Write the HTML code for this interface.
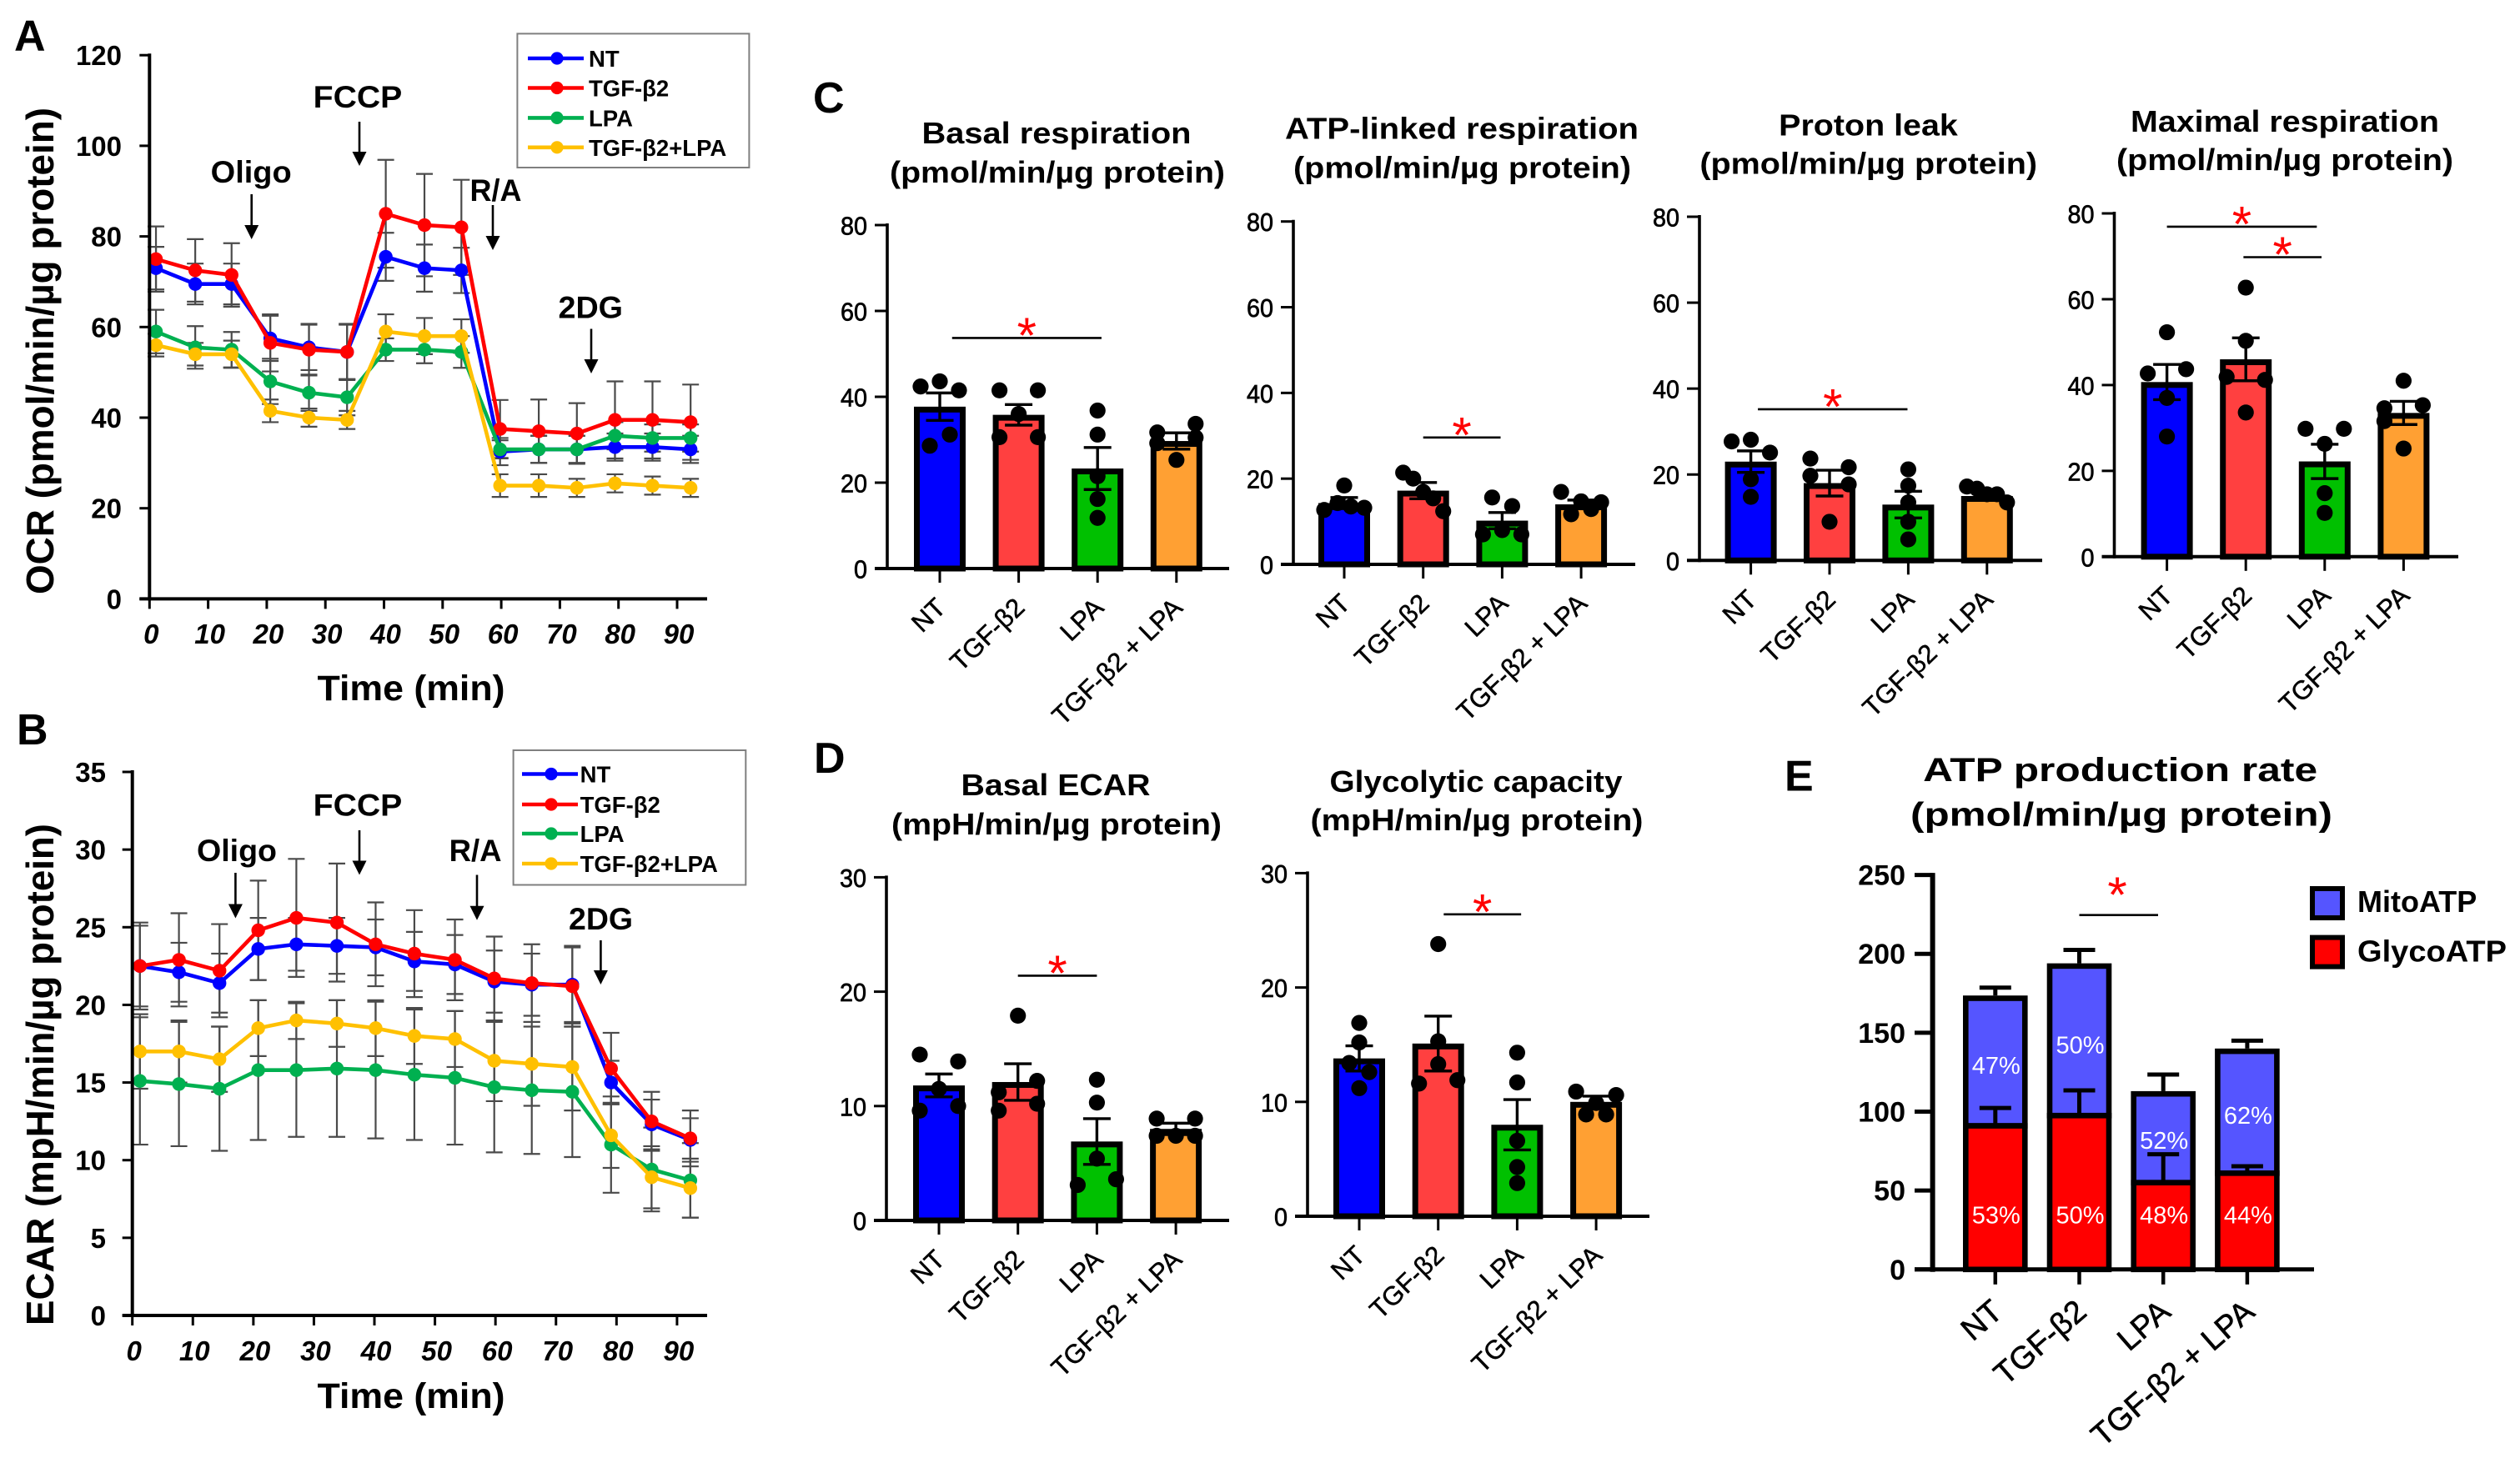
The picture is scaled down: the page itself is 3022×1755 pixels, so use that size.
<!DOCTYPE html>
<html lang="en">
<head>
<meta charset="utf-8">
<title>Cellular respiration and glycolysis measurements</title>
<style>
html,body{margin:0;padding:0;background:#fff;}
svg{display:block;font-family:"Liberation Sans",sans-serif;}
</style>
</head>
<body>
<svg id="figure" width="3022" height="1755" viewBox="0 0 3022 1755" xmlns="http://www.w3.org/2000/svg"></svg>
<script>
// ---------- Panel A data ----------
const ocrTime = [1.1,7.8,14,20.6,27.2,33.7,40.3,46.9,53.2,59.8,66.4,72.9,79.4,85.8,92.3];
const ocrNT = [73,69.5,69.5,57.5,55.5,54.5,75.5,73,72.5,32.5,33,33,33.5,33.5,33];
const ocrTGF = [75,72.5,71.5,56.5,55,54.5,85,82.5,82,37.5,37,36.5,39.5,39.5,39];
const ocrLPA = [59,55.5,55,48,45.5,44.5,55,55,54.5,33,33,33,36,35.5,35.5];
const ocrCombo = [56,54,54,41.5,40,39.5,59,58,58,25,25,24.5,25.5,25,24.5];
const ocrNTErr = [4.7,4.5,4.5,5,5,6,5.3,5.2,5,3,3,3,3,3,3];
const ocrTGFErr = [7.2,6.9,7,6.3,5.7,6.2,11.9,11.3,10.5,6.4,7,6.7,8.5,8.5,8.3];
const ocrLPAErr = [4.8,4.7,3.9,5,4,4,2.5,3,3.5,2,3,3,3,3,3];
const ocrComboErr = [2.5,2.5,3,2.5,2,2,3.8,4,3.7,2.5,2.5,2,2,2,2];
const ocrYTicks = [0,20,40,60,80,100,120];

// ---------- Panel B data ----------
const ecarTime = [1.25,7.7,14.4,20.8,27.1,33.8,40.2,46.6,53.3,59.8,66,72.7,79.1,85.8,92.2];
const ecarNT = [22.5,22.1,21.4,23.6,23.9,23.8,23.7,22.8,22.6,21.5,21.3,21.3,15,12.3,11.3];
const ecarTGF = [22.5,22.9,22.2,24.8,25.6,25.3,23.9,23.3,22.9,21.7,21.4,21.2,15.9,12.5,11.4];
const ecarLPA = [15.1,14.9,14.6,15.8,15.8,15.9,15.8,15.5,15.3,14.7,14.5,14.4,11,9.4,8.7];
const ecarCombo = [17,17,16.5,18.5,19,18.8,18.5,18,17.8,16.4,16.2,16,11.6,8.9,8.2];
const ecarNTErr = [2.6,1.9,1.9,2,1.7,1.8,1.8,1.9,1.9,2,2,2.4,1.4,1.6,1.4];
const ecarTGFErr = [2.8,3,3,3.2,3.8,3.8,2.7,2.8,2.6,2.7,2.5,2.6,2.3,1.9,1.8];
const ecarLPAErr = [4.1,4,4,4.5,4.3,4.4,4.4,4.2,4.3,4.2,4.1,4.2,3.1,2.7,2.4];
const ecarComboErr = [2.4,2,2.1,1.8,1.2,1.5,1.8,1.8,1.8,2.6,2.7,2.8,2.1,2,1.9];
const ecarYTicks = [0,5,10,15,20,25,30,35];

const timeTicks = [0,10,20,30,40,50,60,70,80,90];
const seriesNames = ['NT','TGF-β2','LPA','TGF-β2+LPA'];

// ---------- Bar panel data ----------
const groupLabels = ['NT','TGF-β2','LPA','TGF-β2 + LPA'];
const respTicks = [0,20,40,60,80];
const ecarBarTicks = [0,10,20,30];

const basalMeans = [37.7,35.8,23.3,29.7];
const basalErr = [3.2,2.4,4.9,1.9];
const basalDots = [[42.4,43.6,41.5,28.6,31.2],[41.5,41.5,36,30.6,30.6],[36.8,31.2,21.5,16.2,11.8],[31.7,33.7,29.2,30.5,25.3]];

const atpLinkedMeans = [14.3,17.2,10.2,14];
const atpLinkedErr = [1.3,1.9,1.9,1];
const atpLinkedDots = [[18.4,12.7,14.3,13.5,13.2],[21.4,20,16.9,15.4,12.4],[15.6,13.6,7,8,7],[16.9,11.7,14.7,12.9,14.5]];

const leakMeans = [23,18,13,15];
const leakErr = [2.5,3,3.1,0.8];
const leakDots = [[27.7,28.1,25.1,18.9,14.8],[23.7,21.7,19.7,17.7,9],[21.2,17.4,13.5,9,4.9],[17.2,16.7,15.4,15.4,13.5]];

const maximalMeans = [40.7,46,22.2,33.5];
const maximalErr = [4.1,5,4,2.7];
const maximalDots = [[52.3,42.7,43.7,37,28],[62.7,50.3,41.9,41.2,33.6],[29.8,29.8,26.3,14.8,10.2],[41,34.6,35.3,31.6,25.2]];

const basalEcarMeans = [11.8,12.1,6.9,8];
const basalEcarErr = [1,1.6,2,0.5];
const basalEcarDots = [[14.5,13.9,11.5,9.6,10],[17.9,11.2,12.2,9.6,10.2],[12.3,10.3,5.4,3.1,3.6],[8.9,8.9,7.4,7.4,7.4]];

const glycoCapMeans = [13.8,15.1,8,10];
const glycoCapErr = [1.1,2.4,2.2,0.5];
const glycoCapDots = [[16.9,15.2,13.4,12.6,11.2],[23.8,15.3,13.3,11.6,11.9],[14.3,11.7,6.6,4.3,2.9],[10.9,8.9,9.9,8.9,10.6]];

// ---------- Panel E data ----------
const atpTicks = [0,50,100,150,200,250];
const atpGlyco = [91,97.5,55,61];
const atpTotal = [173.6,194,113,140];
const atpGlycoUpper = [102.3,113.5,73,65.4];
const atpTotalUpper = [178.6,202.5,123.5,145];
const atpMitoPct = [47,50,52,62];
const atpGlycoPct = [53,50,48,44];

// ---------- Palette ----------
const lineColors = ['#0000ff','#ff0000','#00b050','#ffc000'];
const barColors = ['#0000ff','#ff4040','#00c000','#ffa033'];

const NS = 'http://www.w3.org/2000/svg';
const root = document.getElementById('figure');

function group(parent, name){
  const el = document.createElementNS(NS,'g');
  
  
  parent.appendChild(el);
  return el;
}
function line(parent,x1,y1,x2,y2,stroke,w,name){
  const el = document.createElementNS(NS,'line');
  el.setAttribute('x1',x1);el.setAttribute('y1',y1);el.setAttribute('x2',x2);el.setAttribute('y2',y2);
  el.setAttribute('stroke',stroke);el.setAttribute('stroke-width',w);
  
  
  parent.appendChild(el);
  return el;
}
function circle(parent,cx,cy,r,fill,name){
  const el = document.createElementNS(NS,'circle');
  el.setAttribute('cx',cx);el.setAttribute('cy',cy);el.setAttribute('r',r);el.setAttribute('fill',fill);
  
  
  parent.appendChild(el);
  return el;
}
function rect(parent,x,y,w,h,fill,stroke,sw,name){
  const el = document.createElementNS(NS,'rect');
  el.setAttribute('x',x);el.setAttribute('y',y);el.setAttribute('width',w);el.setAttribute('height',Math.max(h,0));
  el.setAttribute('fill',fill);el.setAttribute('stroke',stroke);el.setAttribute('stroke-width',sw);
  
  
  parent.appendChild(el);
  return el;
}
function text(parent,str,x,y,size,o,name){
  const el = document.createElementNS(NS,'text');
  el.setAttribute('x',x);el.setAttribute('y',y);el.setAttribute('font-size',size);
  el.setAttribute('fill',o.fill||'#000');
  el.setAttribute('font-weight',o.weight||'normal');
  if(o.italic) el.setAttribute('font-style','italic');
  el.setAttribute('text-anchor',o.anchor||'start');
  if(o.len){el.setAttribute('textLength',o.len);el.setAttribute('lengthAdjust','spacingAndGlyphs');}
  if(o.rot!==undefined) el.setAttribute('transform','rotate('+o.rot+' '+x+' '+y+')');
  if(o.outline){el.setAttribute('stroke',o.fill||'#000');el.setAttribute('stroke-width',o.outline);}
  el.textContent = str;
  
  
  parent.appendChild(el);
  return el;
}
function arrow(parent,x,y1,y2,name){
  const g = group(parent,name);
  line(g,x,y1,x,y2-12,'#000',2.6,'arrow-shaft');
  const el = document.createElementNS(NS,'polygon');
  el.setAttribute('points',(x-8.5)+','+(y2-17)+' '+(x+8.5)+','+(y2-17)+' '+x+','+y2);
  el.setAttribute('fill','#000');
  
  
  g.appendChild(el);
}

// ---------- Line charts (A, B) ----------
function drawLineChart(c){
  const g = group(root,c.name);
  const X = t => c.x0 + t*(c.x90-c.x0)/90;
  const Y = v => c.y0 - v*(c.y0-c.yTop)/c.yMax;
  c.series.forEach((vals,s)=>{
    const eg = group(g,'error-bars-'+seriesNames[s].toLowerCase());
    vals.forEach((v,i)=>{
      const e = c.errors[s][i], x = X(c.time[i]);
      line(eg,x,Y(v+e),x,Y(v-e),'#4a4a4a',2.2,'error-bar');
      line(eg,x-10,Y(v+e),x+10,Y(v+e),'#4a4a4a',2.2,'error-cap-upper');
      line(eg,x-10,Y(v-e),x+10,Y(v-e),'#4a4a4a',2.2,'error-cap-lower');
    });
  });
  c.series.forEach((vals,s)=>{
    const sg = group(g,'series-'+seriesNames[s].toLowerCase());
    const pl = document.createElementNS(NS,'polyline');
    pl.setAttribute('points',vals.map((v,i)=>X(c.time[i])+','+Y(v)).join(' '));
    pl.setAttribute('fill','none');
    pl.setAttribute('stroke',lineColors[s]);
    pl.setAttribute('stroke-width',4.6);
    
    
    sg.appendChild(pl);
    vals.forEach((v,i)=>circle(sg,X(c.time[i]),Y(v),8.2,lineColors[s],'series-point'));
  });
  // axes
  line(g,c.x0,c.yTop-2,c.x0,c.y0+2,'#000',4,'y-axis');
  line(g,c.x0-12,c.y0,848,c.y0,'#000',4,'x-axis');
  c.yTicks.forEach(v=>{
    line(g,c.x0-(c.tickLen),Y(v),c.x0,Y(v),'#000',3,'y-tick');
    text(g,String(v),c.yLabelRight,Y(v)+12,33,{weight:'bold',anchor:'end'},'y-tick-label');
  });
  timeTicks.forEach(t=>{
    line(g,X(t),c.y0,X(t),c.y0+12,'#000',3,'x-tick');
    text(g,String(t),X(t)+2,c.xLabelY,33,{weight:'bold',italic:true,anchor:'middle'},'x-tick-label');
  });
  text(g,c.yTitle,64,c.yTitleMid,46,{weight:'bold',anchor:'middle',rot:-90,len:c.yTitleLen},'y-axis-title');
  text(g,'Time (min)',493,c.xTitleY,43,{weight:'bold',anchor:'middle',len:225},'x-axis-title');
  c.notes.forEach(n=>{
    text(g,n.label,n.tx,n.ty,37,{weight:'bold',len:n.tw},'annotation-'+n.label.toLowerCase().replace('/',''));
    arrow(g,n.ax,n.a1,n.a2,'arrow-'+n.label.toLowerCase().replace('/',''));
  });
  // legend
  const lg = group(g,'legend');
  rect(lg,c.lx,c.ly,c.lw,c.lh,'#fff','#7f7f7f',2,'legend-box');
  seriesNames.forEach((nm,s)=>{
    const y = c.legY[s];
    const eg = group(lg,'legend-entry');
    line(eg,c.lx+c.lineOff,y,c.lx+c.lineOff+67,y,lineColors[s],4.6,'legend-line');
    circle(eg,c.lx+c.lineOff+35,y,7.6,lineColors[s],'legend-marker');
    text(eg,nm,c.lx+c.textOff,y+10,27.5,{weight:'bold'},'legend-label');
  });
}

drawLineChart({name:'ocr-chart',x0:179.3,x90:812,y0:718.4,yTop:66.2,yMax:120,
  time:ocrTime,series:[ocrNT,ocrTGF,ocrLPA,ocrCombo],errors:[ocrNTErr,ocrTGFErr,ocrLPAErr,ocrComboErr],
  yTicks:ocrYTicks,tickLen:12,yLabelRight:146,xLabelY:772,xTitleY:840,
  yTitle:'OCR (pmol/min/µg protein)',yTitleMid:421,yTitleLen:584,
  notes:[
    {label:'Oligo',tx:252.7,ty:219,tw:97,ax:301.7,a1:233,a2:287},
    {label:'FCCP',tx:375.7,ty:129,tw:106.6,ax:431,a1:146,a2:199},
    {label:'R/A',tx:563.5,ty:241,tw:62,ax:591,a1:246,a2:300},
    {label:'2DG',tx:669.5,ty:381.6,tw:77.5,ax:709,a1:394.5,a2:448}],
  lx:620.4,ly:40.4,lw:278,lh:160.6,lineOff:12.6,textOff:85.6,legY:[70,105.5,141.4,176.8]});

drawLineChart({name:'ecar-chart',x0:158.7,x90:811.9,y0:1578,yTop:926,yMax:35,
  time:ecarTime,series:[ecarNT,ecarTGF,ecarLPA,ecarCombo],errors:[ecarNTErr,ecarTGFErr,ecarLPAErr,ecarComboErr],
  yTicks:ecarYTicks,tickLen:12,yLabelRight:127,xLabelY:1632,xTitleY:1689,
  yTitle:'ECAR (mpH/min/µg protein)',yTitleMid:1289,yTitleLen:602,
  notes:[
    {label:'Oligo',tx:236,ty:1033,tw:96,ax:282.4,a1:1047,a2:1101.5},
    {label:'FCCP',tx:375.7,ty:978.7,tw:106.6,ax:431,a1:996,a2:1049.5},
    {label:'R/A',tx:538.6,ty:1033,tw:63,ax:572,a1:1049.5,a2:1103.7},
    {label:'2DG',tx:682,ty:1115,tw:77,ax:720.4,a1:1128,a2:1181}],
  lx:615.6,ly:900,lw:278.7,lh:161.5,lineOff:10.4,textOff:80,legY:[928.5,965,1000,1036]});

// ---------- Bar charts (C, D) ----------
// Scatter layout: dots close in height share a row cluster and are spread sideways.
function swarmOffsets(vals,Y){
  const order = vals.map((v,i)=>i).sort((a,b)=>vals[b]-vals[a]);
  const clusters = [];
  order.forEach(i=>{
    const last = clusters[clusters.length-1];
    if(last && Math.abs(Y(vals[last[last.length-1]])-Y(vals[i]))<16) last.push(i);
    else clusters.push([i]);
  });
  const offs = vals.map(()=>0);
  clusters.forEach(cl=>{
    const ids = cl.slice().sort((a,b)=>a-b);
    const ys = cl.map(i=>Y(vals[i]));
    const spread = Math.max(...ys)-Math.min(...ys);
    let pattern;
    if(ids.length===1) pattern = [0];
    else if(ids.length===2) pattern = spread>=10 ? [-12,12] : [-23,23];
    else if(ids.length===3) pattern = spread<16 ? [-23,0,23] : [-23,23,-23];
    else if(ids.length===4) pattern = spread<16 ? [-24,-8,8,24] : [-23,23,-23,23];
    else pattern = [-24,-12,0,12,24];
    ids.forEach((id,k)=>{offs[id]=pattern[k];});
  });
  return offs;
}
function drawBarChart(c){
  const g = group(root,c.name);
  const Y = v => c.y0 - v*(c.y0-c.yTop)/c.yMax;
  const X = i => c.cx0 + i*c.step;
  const bw = 55, sw = 7;
  c.means.forEach((m,i)=>{
    rect(g,X(i)-bw/2,Y(m)+sw/2,bw,c.y0-Y(m)-sw/2,barColors[i],'#000',sw,'bar-'+groupLabels[i].toLowerCase().replace(/[^a-z0-9β]+/g,'-'));
  });
  c.means.forEach((m,i)=>{
    const offs = swarmOffsets(c.dots[i],Y);
    const dg = group(g,'data-points-'+(i+1));
    c.dots[i].forEach((v,k)=>circle(dg,X(i)+offs[k],Y(v),9.6,'#000','data-point'));
    const e = c.err[i];
    line(g,X(i),Y(m+e),X(i),Y(m-e),'#000',3.4,'error-bar');
    line(g,X(i)-16.5,Y(m+e),X(i)+16.5,Y(m+e),'#000',3.4,'error-cap-upper');
    line(g,X(i)-16.5,Y(m-e),X(i)+16.5,Y(m-e),'#000',3.4,'error-cap-lower');
  });
  line(g,c.x0,c.yTop-2,c.x0,c.y0+2,'#000',3.6,'y-axis');
  line(g,c.x0-15,c.y0,c.xEnd,c.y0,'#000',4,'x-axis');
  c.ticks.forEach(v=>{
    line(g,c.x0-15,Y(v),c.x0,Y(v),'#000',3,'y-tick');
    text(g,String(v),c.x0-24,Y(v)+11.5,31,{anchor:'end',len:v===0?16:32,outline:0.7},'y-tick-label');
  });
  groupLabels.forEach((lab,i)=>{
    line(g,X(i),c.y0,X(i),c.y0+17,'#000',3,'x-tick');
    text(g,lab,X(i)+9,c.y0+49,31.5,{anchor:'end',rot:-44,outline:0.5},'x-tick-label');
  });
  c.titles.forEach((t,i)=>text(g,t.s,t.x,t.y,36,{weight:'bold',anchor:'middle',len:t.w},'chart-title-line-'+(i+1)));
  c.sig.forEach(s=>{
    const sg = group(g,'significance-bracket');
    line(sg,X(s.a),Y(s.level),X(s.b),Y(s.level),'#000',2.6,'significance-line');
    text(sg,'*',(X(s.a)+X(s.b))/2,Y(s.level)+17.5,60,{fill:'#ff0000',anchor:'middle'},'significance-star');
  });
}

drawBarChart({name:'basal-respiration-chart',x0:1064,y0:682,yTop:270,yMax:80,xEnd:1474,cx0:1127,step:94.6,
  means:basalMeans,err:basalErr,dots:basalDots,ticks:respTicks,
  titles:[{s:'Basal respiration',x:1267,y:171.8,w:323},{s:'(pmol/min/µg protein)',x:1268,y:218.8,w:402}],
  sig:[{a:0.156,b:2.05,level:53.7}]});
drawBarChart({name:'atp-linked-respiration-chart',x0:1551,y0:677,yTop:265.7,yMax:80,xEnd:1961,cx0:1612,step:94.7,
  means:atpLinkedMeans,err:atpLinkedErr,dots:atpLinkedDots,ticks:respTicks,
  titles:[{s:'ATP-linked respiration',x:1753,y:166.7,w:424},{s:'(pmol/min/µg protein)',x:1753.5,y:213.7,w:405}],
  sig:[{a:1,b:1.98,level:29.6}]});
drawBarChart({name:'proton-leak-chart',x0:2038,y0:672.3,yTop:260,yMax:80,xEnd:2449,cx0:2099.6,step:94.4,
  means:leakMeans,err:leakErr,dots:leakDots,ticks:respTicks,
  titles:[{s:'Proton leak',x:2240.5,y:162.6,w:214.6},{s:'(pmol/min/µg protein)',x:2240.7,y:208.6,w:404.7}],
  sig:[{a:0.09,b:1.99,level:35.2}]});
drawBarChart({name:'maximal-respiration-chart',x0:2535.5,y0:667.8,yTop:256,yMax:80,xEnd:2948,cx0:2598.6,step:94.6,
  means:maximalMeans,err:maximalErr,dots:maximalDots,ticks:respTicks,
  titles:[{s:'Maximal respiration',x:2740,y:158,w:370},{s:'(pmol/min/µg protein)',x:2740,y:204,w:404}],
  sig:[{a:0,b:1.9,level:76.9},{a:0.97,b:1.96,level:69.8}]});
drawBarChart({name:'basal-ecar-chart',x0:1063,y0:1464,yTop:1052.4,yMax:30,xEnd:1474,cx0:1126,step:94.7,
  means:basalEcarMeans,err:basalEcarErr,dots:basalEcarDots,ticks:ecarBarTicks,
  titles:[{s:'Basal ECAR',x:1266,y:954,w:227},{s:'(mpH/min/µg protein)',x:1267,y:1001,w:396}],
  sig:[{a:1,b:2,level:21.4}]});
drawBarChart({name:'glycolytic-capacity-chart',x0:1568,y0:1459,yTop:1047.4,yMax:30,xEnd:1978,cx0:1630,step:94.7,
  means:glycoCapMeans,err:glycoCapErr,dots:glycoCapDots,ticks:ecarBarTicks,
  titles:[{s:'Glycolytic capacity',x:1770,y:949.8,w:351},{s:'(mpH/min/µg protein)',x:1771,y:996,w:399}],
  sig:[{a:1.07,b:2.05,level:26.4}]});

// ---------- Stacked ATP chart (E) ----------
(function(){
  const g = group(root,'atp-production-chart');
  const x0 = 2317.6, y0 = 1522.8, yTop = 1049.6, yMax = 250;
  const Y = v => y0 - v*(y0-yTop)/yMax;
  const X = i => 2392.8 + i*100.7;
  const bw = 71, sw = 6.6;
  atpTotal.forEach((t,i)=>{
    const cg = group(g,'stack-'+groupLabels[i].toLowerCase().replace(/[^a-z0-9β]+/g,'-'));
    const gv = atpGlyco[i];
    line(cg,X(i),Y(t),X(i),Y(atpTotalUpper[i]),'#000',5,'mito-error-bar');
    line(cg,X(i)-19,Y(atpTotalUpper[i]),X(i)+19,Y(atpTotalUpper[i]),'#000',5,'mito-error-cap');
    rect(cg,X(i)-bw/2,Y(t)+sw/2,bw,Y(gv)-Y(t)-sw/2,'#5555ff','#000',sw,'mito-atp-segment');
    rect(cg,X(i)-bw/2,Y(gv),bw,y0-Y(gv),'#ff0000','#000',sw,'glyco-atp-segment');
    line(cg,X(i),Y(gv),X(i),Y(atpGlycoUpper[i]),'#000',5,'glyco-error-bar');
    line(cg,X(i)-19,Y(atpGlycoUpper[i]),X(i)+19,Y(atpGlycoUpper[i]),'#000',5,'glyco-error-cap');
    text(cg,atpMitoPct[i]+'%',X(i)+1,Y(gv+(t-gv)*0.47)+11,29,{fill:'#fff',anchor:'middle'},'mito-percent-label');
    text(cg,atpGlycoPct[i]+'%',X(i)+1,Y(35)+11,29,{fill:'#fff',anchor:'middle'},'glyco-percent-label');
  });
  line(g,x0,yTop-2.5,x0,y0+3,'#000',6,'y-axis');
  line(g,2296,y0,2775,y0,'#000',5,'x-axis');
  atpTicks.forEach(v=>{
    line(g,2296,Y(v),x0,Y(v),'#000',5,'y-tick');
    text(g,String(v),2285,Y(v)+12,34,{weight:'bold',anchor:'end'},'y-tick-label');
  });
  groupLabels.forEach((lab,i)=>{
    line(g,X(i),y0,X(i),y0+18,'#000',4.5,'x-tick');
    text(g,lab,X(i)+11,y0+54,38,{anchor:'end',rot:-41,outline:0.6},'x-tick-label');
  });
  text(g,'ATP production rate',2542.6,937,40,{weight:'bold',anchor:'middle',len:473},'chart-title-line-1');
  text(g,'(pmol/min/µg protein)',2544,990.5,40,{weight:'bold',anchor:'middle',len:506},'chart-title-line-2');
  const sg = group(g,'significance-bracket');
  line(sg,X(1),Y(224.6),2588,Y(224.6),'#000',2.6,'significance-line');
  text(sg,'*',2539,1094,60,{fill:'#ff0000',anchor:'middle'},'significance-star');
  const lg = group(g,'legend');
  const e1 = group(lg,'legend-entry-mitoatp');
  rect(e1,2773,1066,36,35,'#5555ff','#000',6,'legend-swatch');
  text(e1,'MitoATP',2827,1094,36,{weight:'bold'},'legend-label');
  const e2 = group(lg,'legend-entry-glycoatp');
  rect(e2,2773,1124.6,36,35,'#ff0000','#000',6,'legend-swatch');
  text(e2,'GlycoATP',2827,1153.4,36,{weight:'bold',len:179},'legend-label');
})();

// ---------- Panel letters ----------
const lettersGroup = group(root,'panel-letters');
text(lettersGroup,'A',17,60.6,52,{weight:'bold'},'panel-letter-a');
text(lettersGroup,'B',20,893,52,{weight:'bold'},'panel-letter-b');
text(lettersGroup,'C',975,135,52,{weight:'bold'},'panel-letter-c');
text(lettersGroup,'D',976,927,52,{weight:'bold'},'panel-letter-d');
text(lettersGroup,'E',2140,948.6,52,{weight:'bold'},'panel-letter-e');
</script>
</body>
</html>
